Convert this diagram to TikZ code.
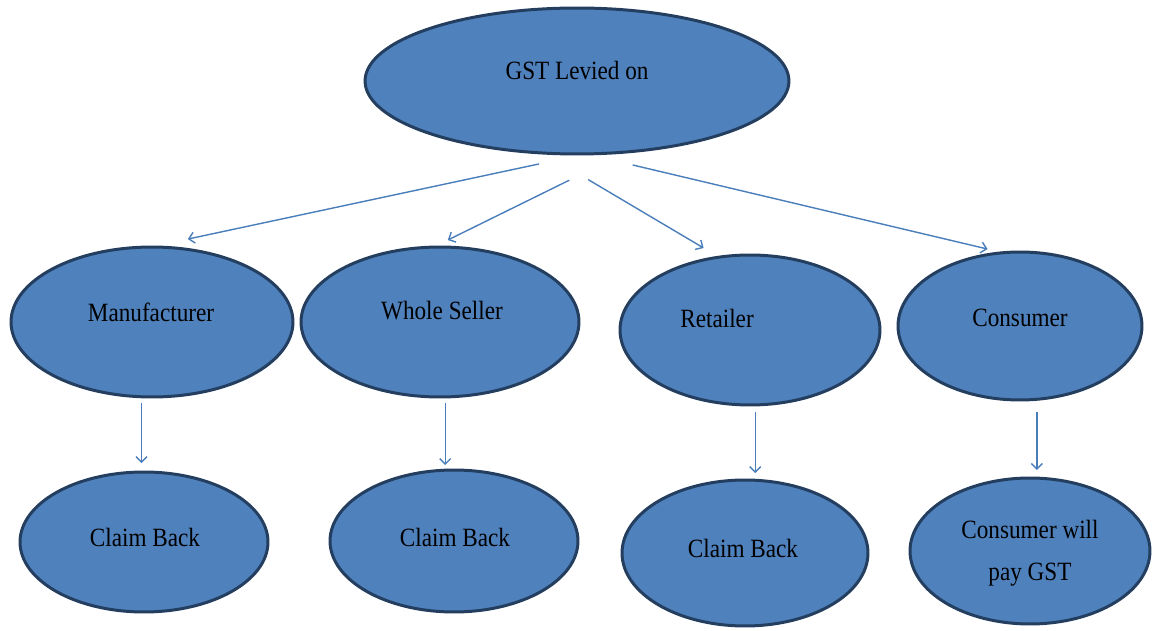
\documentclass[tikz,border=0pt]{standalone}
\usepackage{fontspec}
\setmainfont[FakeStretch=0.88]{Liberation Serif}
\usepackage{xcolor}
\usetikzlibrary{shapes.geometric}
\usetikzlibrary{calc}
\usetikzlibrary{arrows.meta}
\definecolor{ovalfill}{HTML}{4F81BD}
\definecolor{ovaledge}{HTML}{233E5F}
\definecolor{linkblue}{HTML}{4A7EBB}
\tikzset{
  every node/.style = {font = \fontsize{15}{24}\selectfont}
}
\tikzset{
    >={Straight Barb[length=1.1mm,width=2.2mm]}
}
\tikzset{
  oval/.style = {ellipse, draw=ovaledge, fill=ovalfill, line width=1.7pt,
                 inner sep=0pt, outer sep=0pt},
  word/.style = {text=black, align=center, inner sep=0pt},
  link/.style = {->, draw=linkblue, line width=0.8pt}
}

\begin{document}
\begin{tikzpicture}[x=0.02cm, y=-0.02cm]
\useasboundingbox (0,0) rectangle (1157,631);

% The ovals
\node[oval, minimum width=8.48cm, minimum height=2.92cm] (gst) at (577,81) {};
\node[oval, minimum width=5.64cm, minimum height=3cm] (man) at (152,322) {};
\node[oval, minimum width=5.56cm, minimum height=3cm] (ws) at (440,322) {};
\node[oval, minimum width=5.2cm, minimum height=3cm] (ret) at (750,330) {};
\node[oval, minimum width=4.88cm, minimum height=2.96cm] (con) at (1020,326) {};
\node[oval, minimum width=4.96cm, minimum height=2.8cm] (cb1) at (144,542) {};
\node[oval, minimum width=4.96cm, minimum height=2.84cm] (cb2) at (454,541) {};
\node[oval, minimum width=4.92cm, minimum height=2.92cm] (cb3) at (745,553) {};
\node[oval, minimum width=4.8cm, minimum height=2.92cm] (pay) at (1030,551) {};

% The texts
\node[word] (gst-t) at ($(gst)+(0,-11)$) {GST Levied on};
\node[word] (man-t) at ($(man)+(-1,-10)$) {Manufacturer};
\node[word] (ws-t) at ($(ws)+(2,-11)$) {Whole Seller};
\node[word] (ret-t) at ($(ret)+(-33,-12)$) {Retailer};
\node[word] (con-t) at ($(con)+(0,-8)$) {Consumer};
\node[word] (cb1-t) at ($(cb1)+(1,-5)$) {Claim Back};
\node[word] (cb2-t) at ($(cb2)+(1,-4)$) {Claim Back};
\node[word] (cb3-t) at ($(cb3)+(-2,-5)$) {Claim Back};
\node[word] (pay-t) at ($(pay)+(0,2)$) {Consumer will\\pay GST};

% Arrows from the top oval
\draw[link, shorten <=0.96cm, shorten >=0.76cm] (gst.277) -- (man.91);
\draw[link, shorten <=1.28cm, shorten >=0.32cm] (gst.305) -- (ws.95);
\draw[link, shorten <=1.04cm, shorten >=0.36cm] (gst.245) -- (ret.113.5);
\draw[link, shorten <=0.96cm, shorten >=0.32cm] (gst.277) -- (con.103);

% Arrows down to the last row
\draw[link, shorten <=0.12cm, shorten >=0.18cm] (man.262) -- (man.262 |- cb1.north);
\draw[link, shorten <=0.12cm, shorten >=0.10cm] (ws.274) -- (ws.274 |- cb2.north);
\draw[link, shorten <=0.14cm, shorten >=0.14cm] (ret.274) -- (ret.274 |- cb3.north);
\draw[link, shorten <=0.26cm, shorten >=0.16cm] (con.283) -- (con.283 |- pay.north);
\end{tikzpicture}
\end{document}
